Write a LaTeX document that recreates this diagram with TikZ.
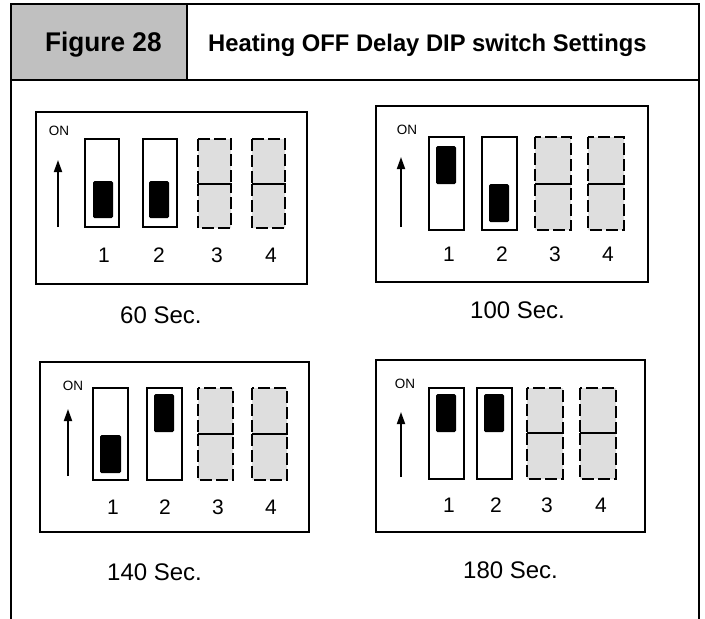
\documentclass[tikz,border=0pt]{standalone}
\usepackage{fontspec}
\setmainfont{Liberation Sans}
\usepackage{tikz}
\usetikzlibrary{arrows.meta}
\definecolor{hdrgray}{RGB}{192,192,192}
\definecolor{sparegray}{RGB}{222,222,222}
\tikzset{
  frameline/.style={line width=2.8pt, color=black},
  dipbox/.style={draw, line width=2.2pt},
  swbox/.style={draw, fill=white, line width=1.8pt},
  knob/.style={fill=black, rounded corners=1.5pt},
  spare/.style={draw, fill=sparegray, line width=1.8pt, dash pattern=on 12pt off 4pt},
  onarrow/.style={-{Triangle[length=12pt, width=8pt]}, line width=1.8pt},
  onlbl/.style={font=\fontsize{13.5}{14}\selectfont, anchor=base},
  numlbl/.style={font=\fontsize{21}{21}\selectfont, anchor=base},
  seclbl/.style={font=\fontsize{24}{24}\selectfont, anchor=base west, inner sep=0pt}
}
\begin{document}
\begin{tikzpicture}[x=1pt, y=-1pt]
  \useasboundingbox (0,0) rectangle (705,619);

  % Header
  \fill[hdrgray] (11,4) rectangle (187,80);
  \draw[frameline] (11,619) -- (11,4) -- (699,4) -- (699,619);
  \draw[frameline] (11,80) -- (699,80);
  \draw[frameline] (187,4) -- (187,80);
  \node[anchor=base west, inner sep=0pt, font=\fontsize{27}{27}\selectfont\bfseries] (fig) at (45,51) {\scalebox{0.97}[1]{Figure 28}};
  \node[anchor=base west, inner sep=0pt, font=\fontsize{24}{24}\selectfont\bfseries] (title) at (208,51) {\scalebox{0.99}[1]{Heating OFF Delay DIP switch Settings}};

  % 60 Sec.
  \draw[dipbox] (36,112) rectangle (307,284);
  \node[onlbl] (on1) at (59,135) {ON};
  \draw[onarrow] (58,227) -- (58,160);
  \draw[swbox] (85,139) rectangle (119,227) (143,139) rectangle (177,227);
  \fill[knob] (93,181) rectangle (113,218) (149,181) rectangle (169,218);
  \draw[spare] (198,139) rectangle (231,184) (198,184) rectangle (231,228);
  \draw[spare] (252,139) rectangle (285,184) (252,184) rectangle (285,228);
  \node[numlbl] (a1) at (104,262) {1};
  \node[numlbl] (a2) at (159,262) {2};
  \node[numlbl] (a3) at (217,262) {3};
  \node[numlbl] (a4) at (271,262) {4};
  \node[seclbl] (sec60) at (120,323) {60 Sec.};

  % 100 Sec.
  \draw[dipbox] (376,106) rectangle (648,282);
  \node[onlbl] (on2) at (407,134) {ON};
  \draw[onarrow] (401,227) -- (401,157);
  \draw[swbox] (429,137) rectangle (464,230) (482,137) rectangle (517,230);
  \fill[knob] (436,146) rectangle (456,184) (489,184) rectangle (509,222);
  \draw[spare] (535,137) rectangle (571,184) (535,184) rectangle (571,230);
  \draw[spare] (588,137) rectangle (624,184) (588,184) rectangle (624,230);
  \node[numlbl] (b1) at (449,261) {1};
  \node[numlbl] (b2) at (502,261) {2};
  \node[numlbl] (b3) at (555,261) {3};
  \node[numlbl] (b4) at (608,261) {4};
  \node[seclbl] (sec100) at (470,318) {100 Sec.};

  % 140 Sec.
  \draw[dipbox] (40,362) rectangle (309,532);
  \node[onlbl] (on3) at (73,390) {ON};
  \draw[onarrow] (68,476) -- (68,409);
  \draw[swbox] (93,388) rectangle (128,480) (147,388) rectangle (182,480);
  \fill[knob] (100,435) rectangle (121,473) (154,394) rectangle (174,432);
  \draw[spare] (198,388) rectangle (233,434) (198,434) rectangle (233,480);
  \draw[spare] (252,388) rectangle (287,434) (252,434) rectangle (287,480);
  \node[numlbl] (c1) at (113,514) {1};
  \node[numlbl] (c2) at (165,514) {2};
  \node[numlbl] (c3) at (218,514) {3};
  \node[numlbl] (c4) at (271,514) {4};
  \node[seclbl] (sec140) at (107,580) {140 Sec.};

  % 180 Sec.
  \draw[dipbox] (376,360) rectangle (645,532);
  \node[onlbl] (on4) at (405,388) {ON};
  \draw[onarrow] (401,477) -- (401,412);
  \draw[swbox] (429,388) rectangle (464,479) (477,388) rectangle (512,479);
  \fill[knob] (436,394) rectangle (456,432) (484,394) rectangle (504,432);
  \draw[spare] (527,388) rectangle (563,433) (527,433) rectangle (563,479);
  \draw[spare] (580,388) rectangle (616,433) (580,433) rectangle (616,479);
  \node[numlbl] (d1) at (449,512) {1};
  \node[numlbl] (d2) at (496,512) {2};
  \node[numlbl] (d3) at (547,512) {3};
  \node[numlbl] (d4) at (601,512) {4};
  \node[seclbl] (sec180) at (463,578) {180 Sec.};
\end{tikzpicture}
\end{document}
